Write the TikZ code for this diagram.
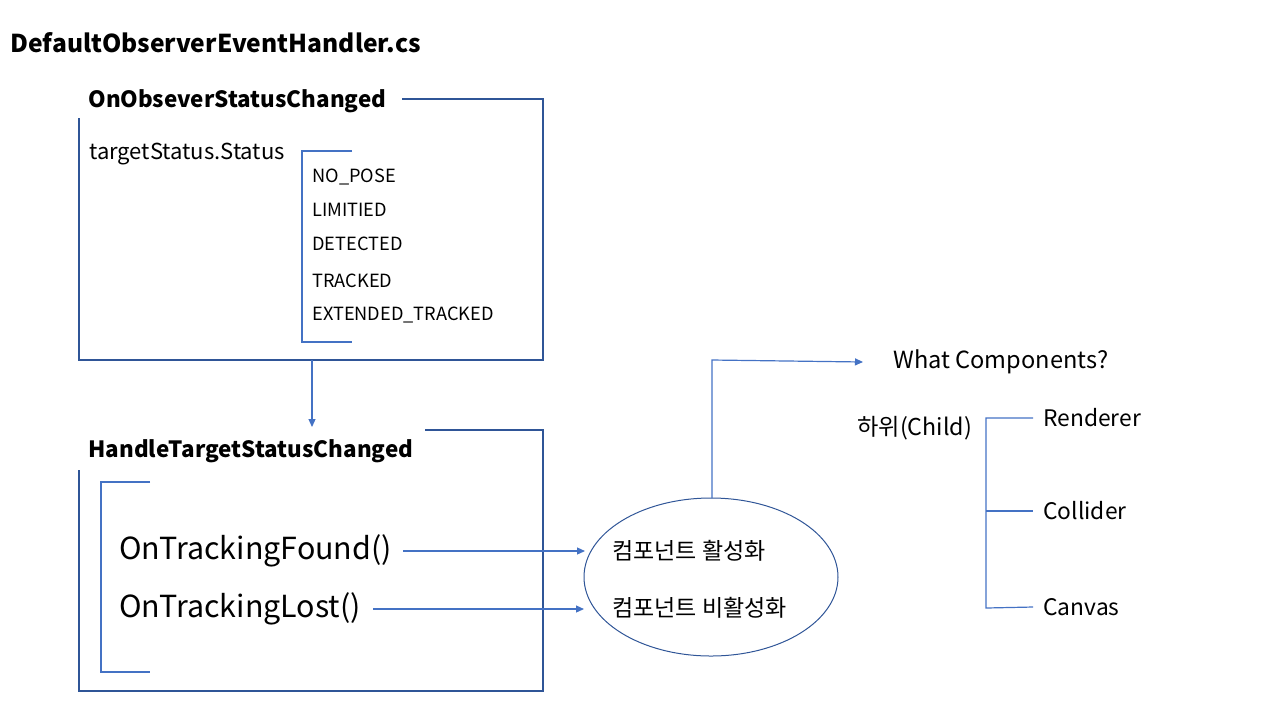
\documentclass[tikz,border=0pt]{standalone}
\usepackage{fontspec}
\setmainfont{Noto Sans CJK KR}
\usetikzlibrary{arrows.meta}
\definecolor{boxblue}{HTML}{2F5597}
\definecolor{linkblue}{HTML}{4472C4}
\newcommand{\fs}[1]{\fontsize{#1}{#1}\selectfont}

\begin{document}
\begin{tikzpicture}[x=0.5pt,y=-0.5pt]
\tikzstyle{every node}+=[inner sep=0pt, anchor=west]
\tikzstyle{frame}=[draw=boxblue, line width=0.6pt]
\tikzstyle{link}=[draw=linkblue, line width=0.6pt]
\tikzstyle{tip}=[-{Triangle[length=4pt,width=3.5pt]}]
\useasboundingbox (0,0) rectangle (1280,720);
\node (file) at (10,43) {\fs{12.3}\bfseries DefaultObserverEventHandler.cs};
% first box
\node (obs) at (88,101) {\fs{11.2}\bfseries OnObseverStatusChanged};
\draw [frame] (402,99) -- (543,99) -- (543,360) -- (79,360) -- (79,118);
\node (status) at (89,154) {\fs{11}targetStatus.Status};
\draw [link] (352,151) -- (302,151) -- (302,342) -- (352,342);
\node (s1) at (312,177) {\fs{9.1}NO\_POSE};
\node (s2) at (312,210) {\fs{9.1}LIMITIED};
\node (s3) at (312,244) {\fs{9.1}DETECTED};
\node (s4) at (312,281) {\fs{9.1}TRACKED};
\node (s5) at (312,315) {\fs{9.1}EXTENDED\_TRACKED};
% second box
\coordinate (out1) at (312,360);
\coordinate (in2) at (312,427);
\draw [link, tip] (out1) -- (in2);
\node (handle) at (88,451) {\fs{11.2}\bfseries HandleTargetStatusChanged};
\draw [frame] (425,430) -- (543,430) -- (543,691) -- (79,691) -- (79,470);
\draw [link] (150,482) -- (101,482) -- (101,672) -- (150,672);
\node (found) at (119,551) {\fs{15.2}OnTrackingFound()};
\node (lost) at (119,609) {\fs{15.2}OnTrackingLost()};
% ellipse
\draw [boxblue, line width=0.5pt] (711,577) ellipse [x radius=127, y radius=79];
\coordinate (ell) at (711,577);
\node (on) at (612,551) {\fs{11.5}컴포넌트 활성화};
\node (off) at (612,608) {\fs{11.5}컴포넌트 비활성화};
\draw [link, tip] ([xshift=5.5]found.east) -- (585,551);
\draw [link, tip] ([xshift=6]lost.east) -- (584,609);
% components
\node (what) at (893,362) {\fs{11.8}What Components?};
\draw [link, tip] (712,498) -- (712,360) -- ([xshift=-15]what.west);
\node (child) at (857,428) {\fs{11.6}하위(Child)};
\node (rend) at (1043,418) {\fs{11.4}Renderer};
\node (coll) at (1043,511) {\fs{11.4}Collider};
\node (canv) at (1043,607) {\fs{11.4}Canvas};
\draw [link] ([xshift=-5]rend.west) -- (986,418) -- (986,608) -- ([xshift=-5]canv.west);
\draw [link] (986,511) -- ([xshift=-5]coll.west);
\end{tikzpicture}
\end{document}
